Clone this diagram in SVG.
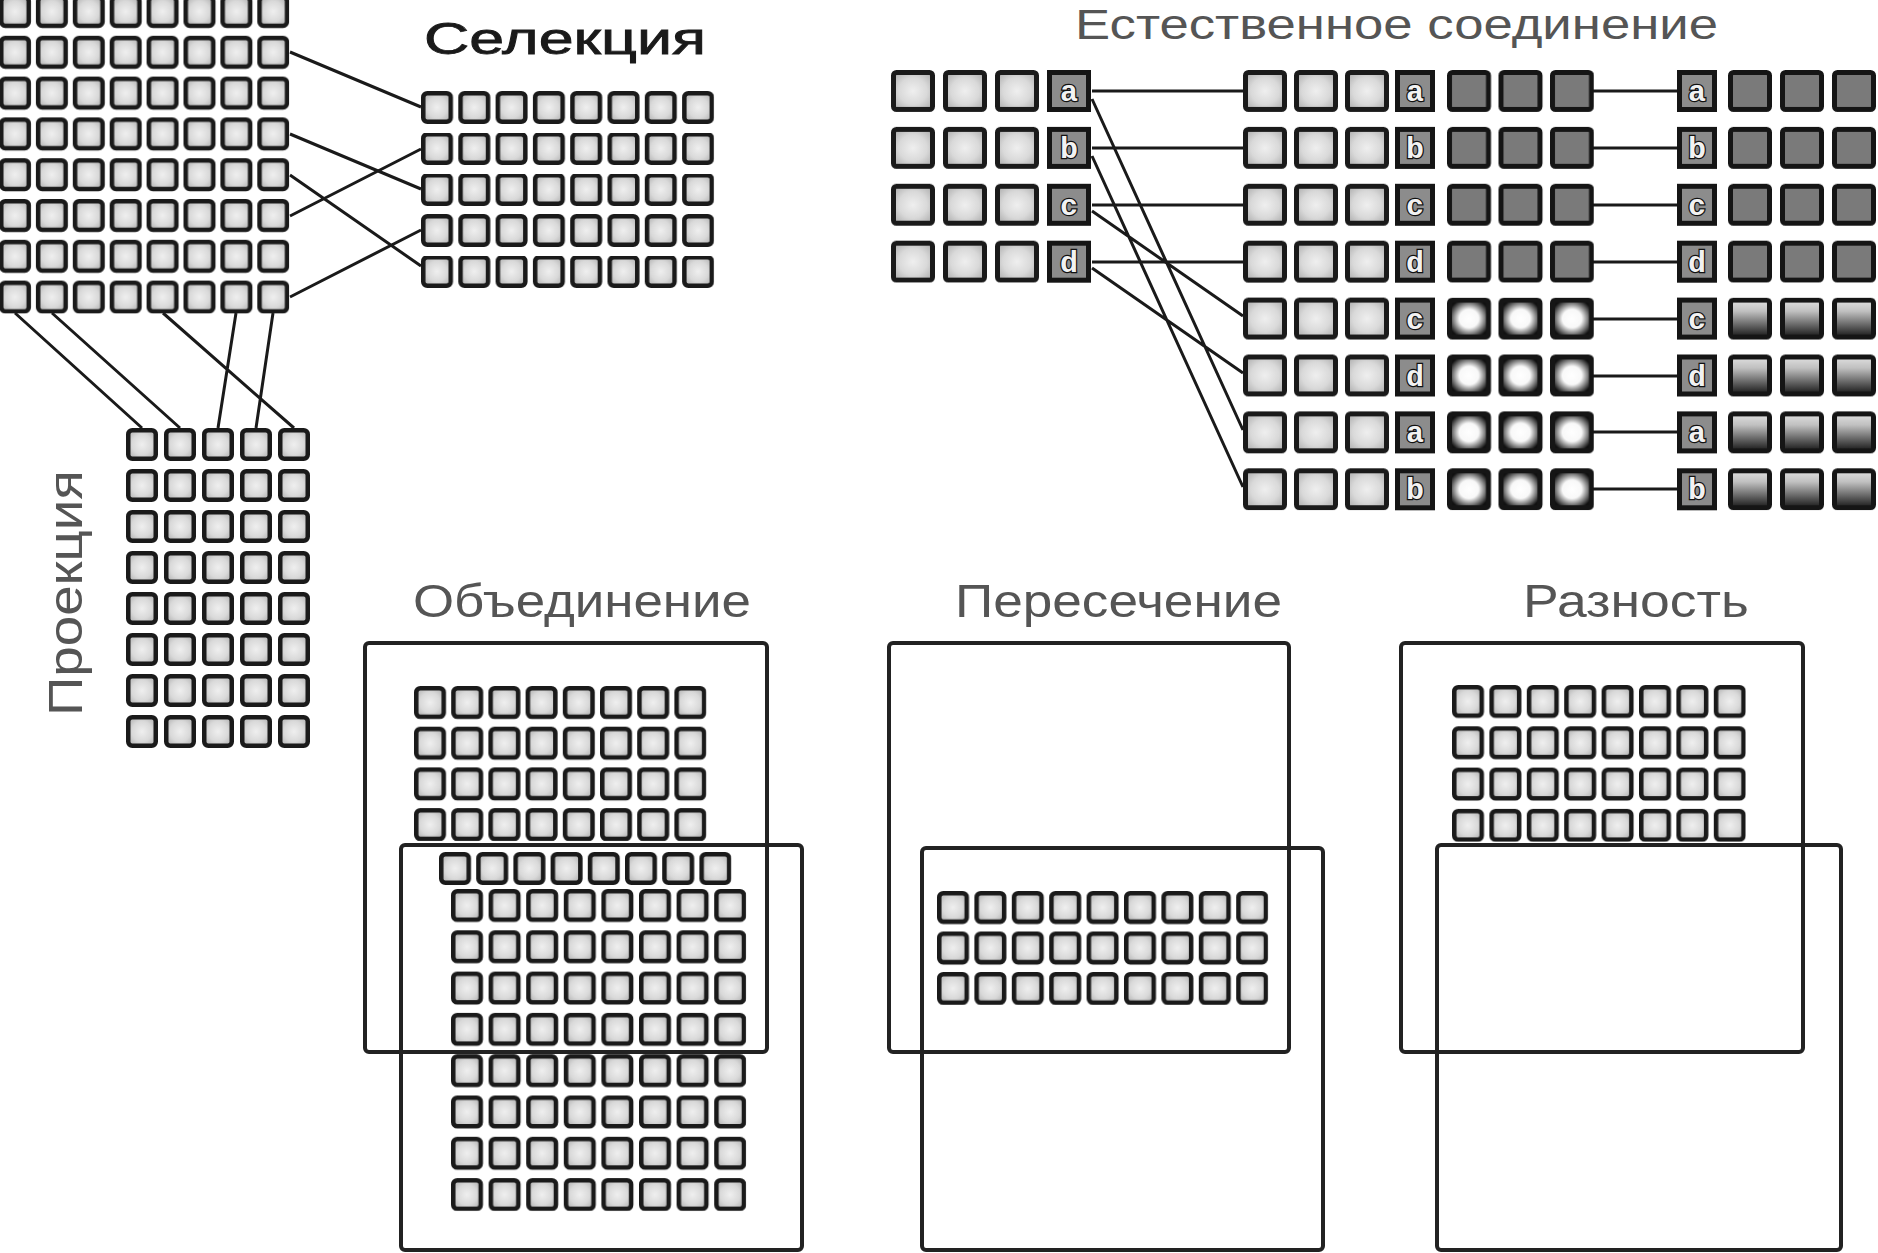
<svg xmlns="http://www.w3.org/2000/svg" width="1878" height="1253" viewBox="0 0 1878 1253">
<style>
.lbl{font-family:"Liberation Sans",Arial,sans-serif;fill:#555}
.sel{font-family:"Liberation Sans",Arial,sans-serif;fill:#1a1a1a;stroke:#1a1a1a;stroke-width:0.8}
.cell{fill:url(#gLight);stroke:#1a1a1a;stroke-width:4.5}
.big{fill:url(#gLight);stroke:#1a1a1a;stroke-width:5}
.dark{fill:#7a7a7a;stroke:#151515;stroke-width:5}
.wht{fill:url(#gWhite);stroke:#151515;stroke-width:5}
.grd{fill:url(#gGrad);stroke:#151515;stroke-width:5}
.key{fill:#8c8c8c;stroke:#151515;stroke-width:5}
.kt{font-family:"Liberation Mono","DejaVu Sans Mono",monospace;font-weight:bold;font-size:30px;fill:#f2f2f2;stroke:#111;stroke-width:2.5;paint-order:stroke;text-anchor:middle}
.box{fill:none;stroke:#222;stroke-width:4}
.ln{stroke:#1a1a1a;stroke-width:3;fill:none}
</style>
<defs>
<radialGradient id="gLight" cx="50%" cy="50%" r="60%"><stop offset="0" stop-color="#efefef"/><stop offset="0.6" stop-color="#d9d9d9"/><stop offset="1" stop-color="#b5b5b5"/></radialGradient>
<radialGradient id="gWhite" cx="50%" cy="50%" r="55%"><stop offset="0" stop-color="#ffffff"/><stop offset="0.45" stop-color="#f8f8f8"/><stop offset="1" stop-color="#111111"/></radialGradient>
<linearGradient id="gGrad" x1="0" y1="0" x2="0" y2="1"><stop offset="0" stop-color="#e0e0e0"/><stop offset="0.3" stop-color="#c0c0c0"/><stop offset="1" stop-color="#181818"/></linearGradient>
<rect id="sc" x="2.25" y="2.25" width="27.5" height="28.5" rx="4"/>
<rect id="bc" x="2.5" y="2.5" width="39" height="37" rx="3"/>
<pattern id="pSrc" patternUnits="userSpaceOnUse" x="-1" y="-5" width="36.9" height="40.8"><use href="#sc" class="cell"/></pattern>
<pattern id="pSel" patternUnits="userSpaceOnUse" x="421" y="91" width="37.3" height="41"><use href="#sc" class="cell"/></pattern>
<pattern id="pPrj" patternUnits="userSpaceOnUse" x="126" y="428" width="38" height="41"><use href="#sc" class="cell"/></pattern>
<pattern id="pU1" patternUnits="userSpaceOnUse" x="414" y="686" width="37.2" height="40.7"><use href="#sc" class="cell"/></pattern>
<pattern id="pU2" patternUnits="userSpaceOnUse" x="439" y="852" width="37.2" height="40"><use href="#sc" class="cell"/></pattern>
<pattern id="pU3" patternUnits="userSpaceOnUse" x="451" y="889" width="37.6" height="41.3"><use href="#sc" class="cell"/></pattern>
<pattern id="pInt" patternUnits="userSpaceOnUse" x="937" y="891" width="37.4" height="40.5"><use href="#sc" class="cell"/></pattern>
<pattern id="pDif" patternUnits="userSpaceOnUse" x="1452" y="685" width="37.4" height="41.3"><use href="#sc" class="cell"/></pattern>
<pattern id="pNL" patternUnits="userSpaceOnUse" x="891" y="70" width="52" height="56.9"><use href="#bc" class="big"/></pattern>
<pattern id="pNM" patternUnits="userSpaceOnUse" x="1243" y="70" width="51" height="56.9"><use href="#bc" class="big"/></pattern>
<pattern id="pND" patternUnits="userSpaceOnUse" x="1447" y="70" width="51.5" height="56.9"><use href="#bc" class="dark"/></pattern>
<pattern id="pNW" patternUnits="userSpaceOnUse" x="1447" y="297.6" width="51.5" height="56.9"><use href="#bc" class="wht"/></pattern>
<pattern id="pRD" patternUnits="userSpaceOnUse" x="1728" y="70" width="52" height="56.9"><use href="#bc" class="dark"/></pattern>
<pattern id="pRG" patternUnits="userSpaceOnUse" x="1728" y="297.6" width="52" height="56.9"><use href="#bc" class="grd"/></pattern>
</defs>
<rect width="1878" height="1253" fill="#ffffff"/>

<g id="connectors">
<path class="ln" d="M290 52L421 107M290 134L421 189M290 175L421 266M290 216L421 149M290 297L421 230"/>
<path class="ln" d="M15 313L142 428M52 313L180 428M163 313L294 428M236 313L218 428M273 313L256 428"/>
<path class="ln" d="M1092 91H1243M1092 148H1243M1092 205H1243M1092 262H1243"/>
<path class="ln" d="M1092 99L1243 430M1092 156L1243 487M1092 211L1243 316M1092 268L1243 373"/>
<path class="ln" d="M1593 91H1677M1593 148H1677M1593 205H1677M1593 262H1677M1593 319H1677M1593 376H1677M1593 432H1677M1593 489H1677"/>
</g>

<g id="source">
<rect x="-1" y="-5" width="290.3" height="318.6" fill="url(#pSrc)"/>
</g>

<g id="selection">
<text class="sel" x="424" y="54" font-size="45" textLength="282" lengthAdjust="spacingAndGlyphs">Селекция</text>
<rect x="421" y="91" width="293.1" height="197" fill="url(#pSel)"/>
</g>

<g id="projection">
<text class="lbl" transform="translate(82,716) rotate(-90)" font-size="48" textLength="246" lengthAdjust="spacingAndGlyphs">Проекция</text>
<rect x="126" y="428" width="184" height="320" fill="url(#pPrj)"/>
</g>

<g id="natural-join">
<text class="lbl" x="1075" y="39" font-size="42" textLength="643" lengthAdjust="spacingAndGlyphs">Естественное соединение</text>
<g id="nj-left">
<rect x="891" y="70" width="148" height="212.7" fill="url(#pNL)"/>
<rect class="key" x="1049.5" y="72.5" width="39" height="37"/><text class="kt" x="1069" y="101">a</text>
<rect class="key" x="1049.5" y="129.4" width="39" height="37"/><text class="kt" x="1069" y="158">b</text>
<rect class="key" x="1049.5" y="186.3" width="39" height="37"/><text class="kt" x="1069" y="215">c</text>
<rect class="key" x="1049.5" y="243.2" width="39" height="37"/><text class="kt" x="1069" y="272">d</text>
</g>
<g id="nj-middle">
<rect x="1243" y="70" width="146" height="440.3" fill="url(#pNM)"/>
<rect x="1447" y="70" width="147" height="212.7" fill="url(#pND)"/>
<rect x="1447" y="297.6" width="147" height="212.7" fill="url(#pNW)"/>
<rect class="key" x="1397.5" y="72.5" width="35" height="37"/><text class="kt" x="1415" y="101">a</text>
<rect class="key" x="1397.5" y="129.4" width="35" height="37"/><text class="kt" x="1415" y="158">b</text>
<rect class="key" x="1397.5" y="186.3" width="35" height="37"/><text class="kt" x="1415" y="215">c</text>
<rect class="key" x="1397.5" y="243.2" width="35" height="37"/><text class="kt" x="1415" y="272">d</text>
<rect class="key" x="1397.5" y="300.1" width="35" height="37"/><text class="kt" x="1415" y="329">c</text>
<rect class="key" x="1397.5" y="357" width="35" height="37"/><text class="kt" x="1415" y="386">d</text>
<rect class="key" x="1397.5" y="413.9" width="35" height="37"/><text class="kt" x="1415" y="442">a</text>
<rect class="key" x="1397.5" y="470.8" width="35" height="37"/><text class="kt" x="1415" y="499">b</text>
</g>
<g id="nj-right">
<rect x="1728" y="70" width="156" height="212.7" fill="url(#pRD)"/>
<rect x="1728" y="297.6" width="156" height="212.7" fill="url(#pRG)"/>
<rect class="key" x="1679.5" y="72.5" width="35" height="37"/><text class="kt" x="1697" y="101">a</text>
<rect class="key" x="1679.5" y="129.4" width="35" height="37"/><text class="kt" x="1697" y="158">b</text>
<rect class="key" x="1679.5" y="186.3" width="35" height="37"/><text class="kt" x="1697" y="215">c</text>
<rect class="key" x="1679.5" y="243.2" width="35" height="37"/><text class="kt" x="1697" y="272">d</text>
<rect class="key" x="1679.5" y="300.1" width="35" height="37"/><text class="kt" x="1697" y="329">c</text>
<rect class="key" x="1679.5" y="357" width="35" height="37"/><text class="kt" x="1697" y="386">d</text>
<rect class="key" x="1679.5" y="413.9" width="35" height="37"/><text class="kt" x="1697" y="442">a</text>
<rect class="key" x="1679.5" y="470.8" width="35" height="37"/><text class="kt" x="1697" y="499">b</text>
</g>
</g>

<g id="union">
<text class="lbl" x="413" y="617" font-size="46" textLength="338" lengthAdjust="spacingAndGlyphs">Объединение</text>
<rect x="414" y="686" width="292.4" height="155.1" fill="url(#pU1)"/>
<rect x="439" y="852" width="292.4" height="33" fill="url(#pU2)"/>
<rect x="451" y="889" width="295.2" height="322.1" fill="url(#pU3)"/>
<rect class="box" x="365" y="643" width="402" height="409" rx="4"/>
<rect class="box" x="401" y="845" width="401" height="405" rx="4"/>
</g>

<g id="intersection">
<text class="lbl" x="955" y="617" font-size="46" textLength="327" lengthAdjust="spacingAndGlyphs">Пересечение</text>
<rect x="937" y="891" width="331.2" height="114" fill="url(#pInt)"/>
<rect class="box" x="889" y="643" width="400" height="409" rx="4"/>
<rect class="box" x="922" y="848" width="401" height="402" rx="4"/>
</g>

<g id="difference">
<text class="lbl" x="1523" y="617" font-size="46" textLength="226" lengthAdjust="spacingAndGlyphs">Разность</text>
<rect x="1452" y="685" width="293.8" height="156.9" fill="url(#pDif)"/>
<rect class="box" x="1401" y="643" width="402" height="409" rx="4"/>
<rect class="box" x="1437" y="845" width="404" height="405" rx="4"/>
</g>
</svg>
